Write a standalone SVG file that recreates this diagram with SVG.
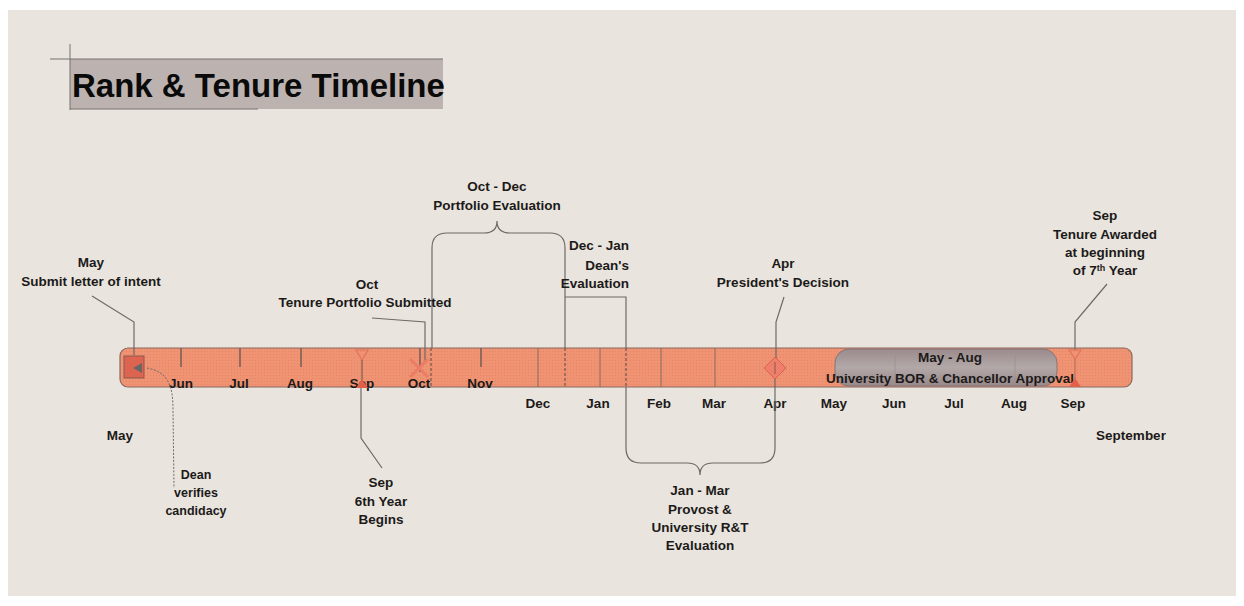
<svg xmlns="http://www.w3.org/2000/svg" width="1244" height="606" viewBox="0 0 1244 606">
<style>
text{font-family:"Liberation Sans",Arial,sans-serif;font-weight:bold;font-size:13.5px;fill:#1c1a19}
.c{text-anchor:middle}
.r{text-anchor:end}
.ln{fill:none;stroke:#6e6966;stroke-width:1.2}
.dl{fill:none;stroke:#7a5a50;stroke-width:1.3;stroke-dasharray:3 2}
.sl{fill:none;stroke:#8a6a60;stroke-width:1}
.tk{fill:none;stroke:#7d6058;stroke-width:1.6}
.sm{font-size:12.5px}
</style>
<defs>
<pattern id="dots" width="3" height="3" patternUnits="userSpaceOnUse">
<rect width="3" height="3" fill="#ef9373"/>
<rect width="1" height="1" fill="#e48567"/>
</pattern>
<linearGradient id="gray" x1="0" y1="0" x2="0" y2="1">
<stop offset="0" stop-color="#9a8b8c"/>
<stop offset="0.5" stop-color="#b3a8a8"/>
<stop offset="1" stop-color="#978889"/>
</linearGradient>
</defs>
<rect width="1244" height="606" fill="#ffffff"/>
<rect x="8" y="10" width="1228" height="586" fill="#e9e5de"/>

<g id="title">
<rect x="70" y="59" width="373" height="50" fill="#bcb3b0"/>
<line x1="50" y1="59" x2="443" y2="59" stroke="#77716e" stroke-width="1"/>
<line x1="70" y1="44" x2="70" y2="110" stroke="#77716e" stroke-width="1"/>
<line x1="70" y1="109" x2="258" y2="109" stroke="#77716e" stroke-width="1"/>
<text x="72" y="97" style="font-size:33px;fill:#0a0a0a">Rank &amp; Tenure Timeline</text>
</g>

<g id="timeline">
<rect x="120" y="348" width="1012" height="39" rx="8" fill="url(#dots)" stroke="#8a6a60" stroke-width="1.2"/>
<line class="sl" x1="538" y1="348" x2="538" y2="387"/>
<line class="sl" x1="600" y1="348" x2="600" y2="387"/>
<line class="sl" x1="661" y1="348" x2="661" y2="387"/>
<line class="sl" x1="715" y1="348" x2="715" y2="387"/>
<line class="tk" x1="181" y1="348" x2="181" y2="367"/>
<line class="tk" x1="240" y1="348" x2="240" y2="367"/>
<line class="tk" x1="301" y1="348" x2="301" y2="367"/>
<line class="tk" x1="420" y1="348" x2="420" y2="372"/>
<line class="tk" x1="481" y1="348" x2="481" y2="367"/>
<line class="dl" x1="431" y1="348" x2="431" y2="387"/>
<line class="dl" x1="565" y1="348" x2="565" y2="387"/>
<line class="dl" x1="626" y1="348" x2="626" y2="387"/>
<text class="c" x="181" y="388">Jun</text>
<text class="c" x="239" y="388">Jul</text>
<text class="c" x="300" y="388">Aug</text>
<text class="c" x="362" y="388">Sep</text>
<text class="c" x="419" y="388">Oct</text>
<text class="c" x="480" y="388">Nov</text>
</g>

<g id="approval">
<rect x="835" y="349" width="222" height="37" rx="14" fill="url(#gray)" stroke="#8a7576" stroke-width="1"/>
<line x1="895" y1="350" x2="895" y2="385" stroke="#9c8f90" stroke-width="0.8"/>
<line x1="1015" y1="350" x2="1015" y2="385" stroke="#9c8f90" stroke-width="0.8"/>
<text class="c" x="950" y="362">May - Aug</text>
<text class="c" x="950" y="383">University BOR &amp; Chancellor Approval</text>
</g>

<g id="axis-labels">
<text class="c" x="538" y="408">Dec</text>
<text class="c" x="598" y="408">Jan</text>
<text class="c" x="659" y="408">Feb</text>
<text class="c" x="714" y="408">Mar</text>
<text class="c" x="775" y="408">Apr</text>
<text class="c" x="834" y="408">May</text>
<text class="c" x="894" y="408">Jun</text>
<text class="c" x="954" y="408">Jul</text>
<text class="c" x="1014" y="408">Aug</text>
<text class="c" x="1073" y="408">Sep</text>
<text class="c" x="120" y="440">May</text>
<text class="c" x="1131" y="440">September</text>
</g>

<g id="connectors">
<polyline class="ln" points="92,296 134,322 134,355"/>
<path d="M147,368 C168,372 173,385 173,410 L174,488" fill="none" stroke="#6e6966" stroke-width="1" stroke-dasharray="2 1.5"/>
<polyline class="ln" points="372,318 425,322 425,362"/>
<polyline class="ln" points="361,388 361,438 382,468"/>
<path class="ln" d="M432,348 V248 Q432,233 447,233 H484 Q497,233 497,221 Q497,233 510,233 H550 Q565,233 565,248 V348"/>
<polyline class="ln" points="565,297 626,297 626,348"/>
<path class="ln" d="M626,387 V448 Q626,463 641,463 H687 Q700,463 700,475 Q700,463 713,463 H760 Q775,463 775,448 V378"/>
<polyline class="ln" points="784,297 776,322 776,358"/>
<polyline class="ln" points="1107,284 1075,322 1075,350"/>
</g>

<g id="marker-may">
<rect x="124" y="356" width="20" height="22" fill="#dc6450" stroke="#8a5a50" stroke-width="1"/>
<polygon points="133,368 142,363 142,373" fill="#6a6664"/>
</g>

<g id="marker-sep6">
<polygon points="356,350 368,350 362,360" fill="none" stroke="#e2735c" stroke-width="1.2"/>
<line x1="362" y1="360" x2="362" y2="380" stroke="#7d6058" stroke-width="1.2"/>
<polygon points="356,388 368,388 362,379" fill="#e0604a"/>
</g>

<g id="marker-oct">
<path d="M410,359 L428,377 M428,359 L410,377" stroke="#ec7c66" stroke-width="3" fill="none"/>
</g>

<g id="marker-apr">
<polygon points="775,357 786,368 775,379 764,368" fill="#ee7f6a" stroke="#d6604c" stroke-width="1"/>
<line x1="775" y1="362" x2="775" y2="374" stroke="#8a5a50" stroke-width="1"/>
</g>

<g id="marker-sep7">
<polygon points="1069,350 1081,350 1075,359" fill="none" stroke="#e2735c" stroke-width="1.2"/>
<line x1="1075" y1="359" x2="1075" y2="379" stroke="#b06a5a" stroke-width="1"/>
<polygon points="1069,387 1081,387 1075,378" fill="#e0604a"/>
</g>

<g id="label-may">
<text class="c" x="91" y="267">May</text>
<text class="c" x="91" y="286">Submit letter of intent</text>
</g>
<g id="label-dean">
<text class="c sm" x="196" y="479">Dean</text>
<text class="c sm" x="196" y="497">verifies</text>
<text class="c sm" x="196" y="515">candidacy</text>
</g>
<g id="label-oct">
<text class="c" x="367" y="289">Oct</text>
<text class="c" x="365" y="307">Tenure Portfolio Submitted</text>
</g>
<g id="label-sep6">
<text class="c" x="381" y="487">Sep</text>
<text class="c" x="381" y="506">6th Year</text>
<text class="c" x="381" y="524">Begins</text>
</g>
<g id="label-portfolio">
<text class="c" x="497" y="191">Oct - Dec</text>
<text class="c" x="497" y="210">Portfolio Evaluation</text>
</g>
<g id="label-deaneval">
<text class="r" x="629" y="250">Dec - Jan</text>
<text class="r" x="629" y="270">Dean's</text>
<text class="r" x="629" y="288">Evaluation</text>
</g>
<g id="label-provost">
<text class="c" x="700" y="495">Jan - Mar</text>
<text class="c" x="700" y="514">Provost &amp;</text>
<text class="c" x="700" y="532">University R&amp;T</text>
<text class="c" x="700" y="550">Evaluation</text>
</g>
<g id="label-apr">
<text class="c" x="783" y="268">Apr</text>
<text class="c" x="783" y="287">President's Decision</text>
</g>
<g id="label-sep7">
<text class="c" x="1105" y="220">Sep</text>
<text class="c" x="1105" y="239">Tenure Awarded</text>
<text class="c" x="1105" y="257">at beginning</text>
<text class="c" x="1105" y="275">of 7<tspan style="font-size:9px" dy="-4">th</tspan><tspan dy="4"> Year</tspan></text>
</g>
</svg>
